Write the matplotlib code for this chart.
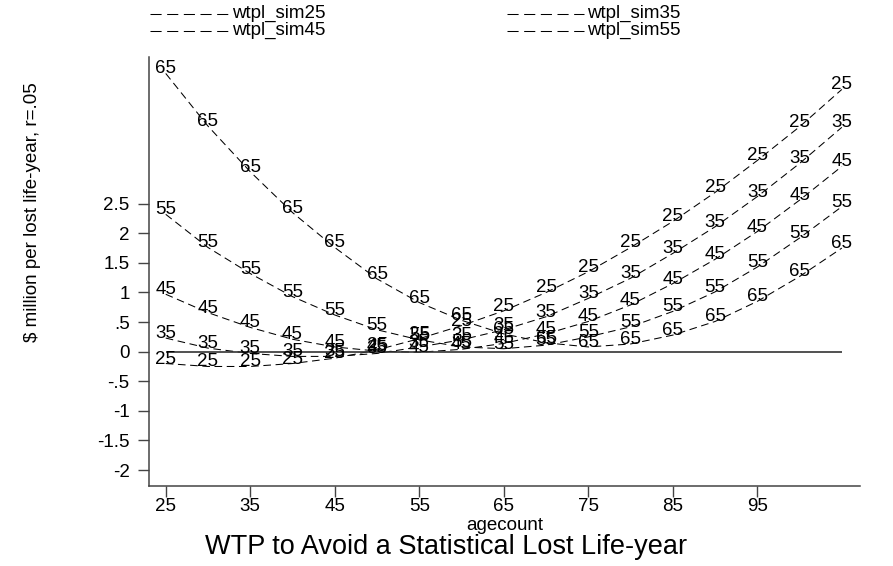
import matplotlib
matplotlib.use("Agg")
import matplotlib.pyplot as plt
from matplotlib.lines import Line2D

plt.rcParams['font.family'] = ['Liberation Sans', 'DejaVu Sans']
plt.rcParams['lines.scale_dashes'] = False

# ---- data ----
ages = [25, 30, 35, 40, 45, 50, 55, 60, 65, 70, 75, 80, 85, 90, 95, 100, 105]
sim25 = [-0.20, -0.25, -0.25, -0.20, -0.11, 0.03, 0.22, 0.44, 0.69, 1.00, 1.35, 1.76, 2.20, 2.69, 3.23, 3.80, 4.43]
sim35 = [0.23, 0.06, -0.03, -0.08, -0.08, -0.03, 0.08, 0.20, 0.37, 0.59, 0.90, 1.24, 1.66, 2.11, 2.62, 3.18, 3.79]
sim45 = [0.97, 0.66, 0.41, 0.21, 0.08, 0.01, -0.01, 0.04, 0.14, 0.30, 0.51, 0.79, 1.15, 1.56, 2.03, 2.56, 3.13]
sim55 = [2.32, 1.76, 1.32, 0.93, 0.62, 0.37, 0.20, 0.08, 0.05, 0.11, 0.25, 0.42, 0.68, 1.01, 1.43, 1.92, 2.45]
sim65 = [4.70, 3.81, 3.04, 2.35, 1.76, 1.23, 0.83, 0.53, 0.30, 0.15, 0.08, 0.13, 0.28, 0.51, 0.85, 1.27, 1.75]
zero_line = [0, 0, 0, 0, 0, 0, 0, 0, 0, 0, 0, 0, 0, 0, 0, 0, 0]
marker_labels = ["25", "35", "45", "55", "65"]
legend_labels = ["wtpl_sim25", "wtpl_sim35", "wtpl_sim45", "wtpl_sim55"]
xticks = [25, 35, 45, 55, 65, 75, 85, 95]
yticks = [-2, -1.5, -1, -0.5, 0, 0.5, 1, 1.5, 2, 2.5]
ytick_labels = ["-2", "-1.5", "-1", "-.5", "0", ".5", "1", "1.5", "2", "2.5"]

W, H = 893, 566
fig = plt.figure(figsize=(W / 100, H / 100), dpi=100)
left, right, bottom, top = 149, 860, 485.7, 56.7
ax = fig.add_axes([left / W, 1 - bottom / H, (right - left) / W, (bottom - top) / H])

series = [sim25, sim35, sim45, sim55, sim65]
DASH = (0, (5.5, 3.3))
FS = 13.5
for vals, lab in zip(series, marker_labels):
    ax.plot(ages, vals, color='black', lw=0.75, linestyle=DASH)
    for xv, yv in zip(ages, vals):
        ax.text(xv, yv, lab, ha='center', va='baseline', fontsize=FS, clip_on=False)

ax.plot(ages, zero_line, color='#333333', lw=1.2, solid_capstyle='butt')

ax.set_xlim(23.02, 107.15)
ax.set_ylim(-2.264, 4.983)
ax.set_xticks(xticks)
ax.set_xticklabels([str(t) for t in xticks], fontsize=FS)
ax.set_yticks(yticks)
ax.set_yticklabels(ytick_labels, fontsize=FS)
ax.tick_params(axis='x', length=8, width=1.0, color='#444444', pad=1)
ax.tick_params(axis='y', length=8, width=1.0, color='#444444', pad=6)
for s in ['top', 'right']:
    ax.spines[s].set_visible(False)
for s in ['left', 'bottom']:
    ax.spines[s].set_color('#444444')
    ax.spines[s].set_linewidth(1.1)

fig.text((left + right) / 2 / W, 1 - 525 / H, "agecount", ha='center', va='center', fontsize=FS)
fig.text(446.5 / W, 1 - 547 / H, "WTP to Avoid a Statistical Lost Life-year",
         ha='center', va='center', fontsize=19.5)
fig.text(33 / W, 1 - 212 / H, "$ million per lost life-year, r=.05", rotation=90,
         ha='center', va='center', fontsize=FS)

# legend (manual, two columns)
leg_pos = [(150, 229, 232, 13), (507, 584, 587, 13), (150, 229, 232, 30), (507, 584, 587, 30)]
for (x0, x1, tx, yy), lab in zip(leg_pos, legend_labels):
    fig.add_artist(Line2D([x0 / W, x1 / W], [1 - (yy + 1) / H, 1 - (yy + 1) / H],
                          transform=fig.transFigure, color='black', lw=0.75,
                          linestyle=(0, (8.0, 4.0))))
    fig.text(tx / W, 1 - yy / H, lab, ha='left', va='center', fontsize=FS)

fig.savefig("out.png", dpi=100)
